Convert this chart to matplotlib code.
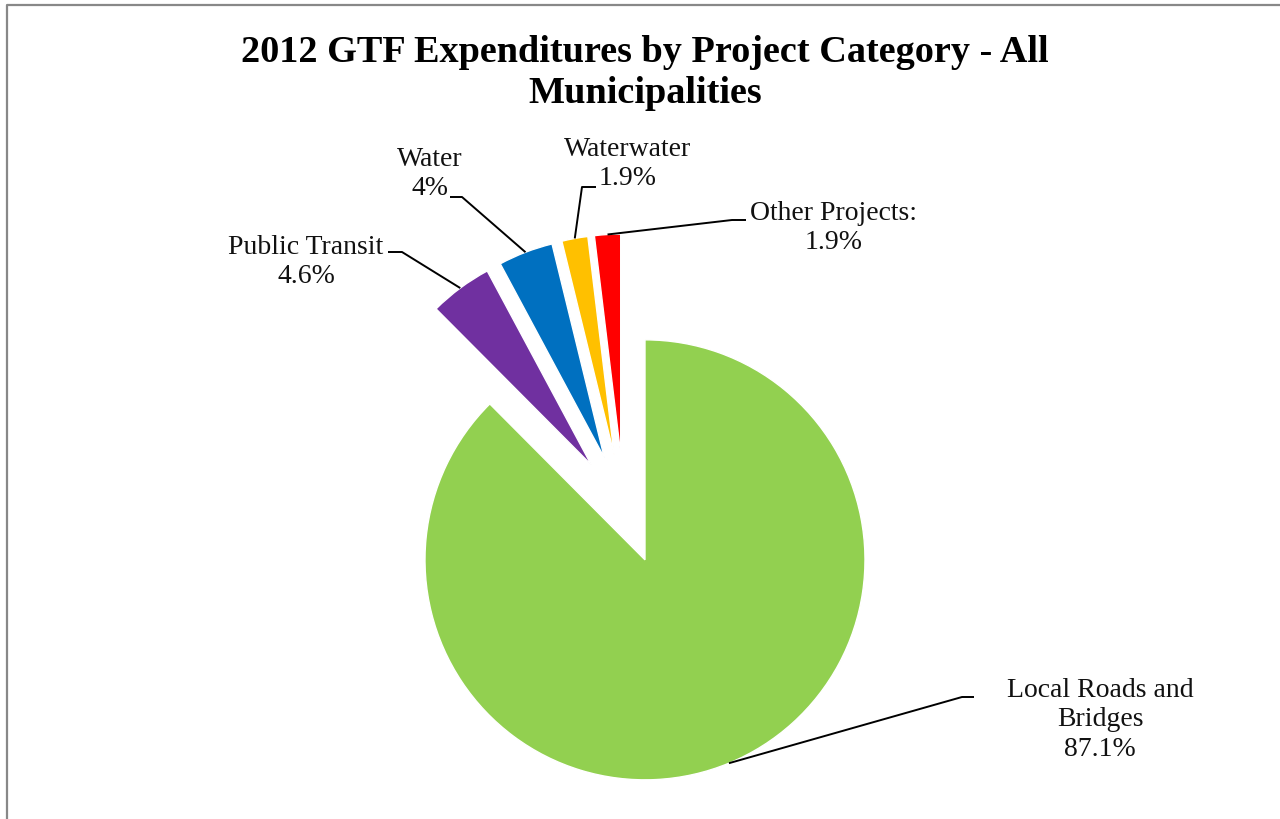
import matplotlib
matplotlib.use('Agg')
import numpy as np
import matplotlib.pyplot as plt

plt.rcParams['font.family'] = ['Liberation Serif', 'DejaVu Serif']

# data
categories = ['Local Roads and\nBridges', 'Public Transit', 'Water', 'Waterwater', 'Other Projects:']
values = [87.1, 4.6, 4.0, 1.9, 1.9]
value_labels = ['87.1%', '4.6%', '4%', '1.9%', '1.9%']
colors = ['#92D050', '#7030A0', '#0070C0', '#FFC000', '#FF0000']
title = '2012 GTF Expenditures by Project Category - All\nMunicipalities'

W, H = 1280, 820
cx, cy, R = 624, 510, 220  # pie centre and radius in pixels

fig = plt.figure(figsize=(W / 100, H / 100), dpi=100)
ax = fig.add_axes([0, 0, 1, 1])

wedges, _ = ax.pie(values, colors=colors, startangle=90, counterclock=False,
                   explode=[0.25] * len(values), radius=1,
                   wedgeprops=dict(linewidth=1, edgecolor='white'))
ax.set_xlim(-cx / R, (W - cx) / R)
ax.set_ylim(-(H - cy) / R, cy / R)
ax.set_aspect('equal')
ax.axis('off')


def px(x, y):
    # pixel position -> data position
    return (x - cx) / R, (cy - y) / R


# label layout: text centre, elbow point, end of short horizontal tick
layout = [
    ((1100, 720), (962, 698), (974, 698)),
    ((306, 262), (402, 253), (388, 253)),
    ((430, 174), (462, 198), (450, 198)),
    ((628, 164), (582, 188), (596, 188)),
    ((834, 228), (732, 221), (746, 221)),
]

for w, cat, vl, (tpos, elbow, tick) in zip(wedges, categories, value_labels, layout):
    th = np.deg2rad((w.theta1 + w.theta2) / 2)
    ax0 = w.center[0] + w.r * np.cos(th)
    ay0 = w.center[1] + w.r * np.sin(th)
    ex, ey = px(*elbow)
    tx, ty = px(*tick)
    ax.plot([ax0, ex, tx], [ay0, ey, ty], color='black', lw=1.4,
            solid_capstyle='butt', clip_on=False)
    x, y = px(*tpos)
    ax.text(x, y, cat + '\n' + vl, ha='center', va='center', fontsize=20,
            linespacing=1.26, color='#111111')

tx, ty = px(645, 73)
ax.text(tx, ty, title, ha='center', va='center', fontsize=27.5,
        fontweight='bold', linespacing=1.22)

# outer chart frame (partially visible)
fx0, fy0 = px(7, 820)
fx1, fy1 = px(7, 5.5)
fx2, _ = px(1280, 5.5)
ax.plot([fx0, fx1, fx2], [fy0, fy1, fy1], color='#888888', lw=1.6, clip_on=False)

fig.savefig('out.png', dpi=100, facecolor='white')
